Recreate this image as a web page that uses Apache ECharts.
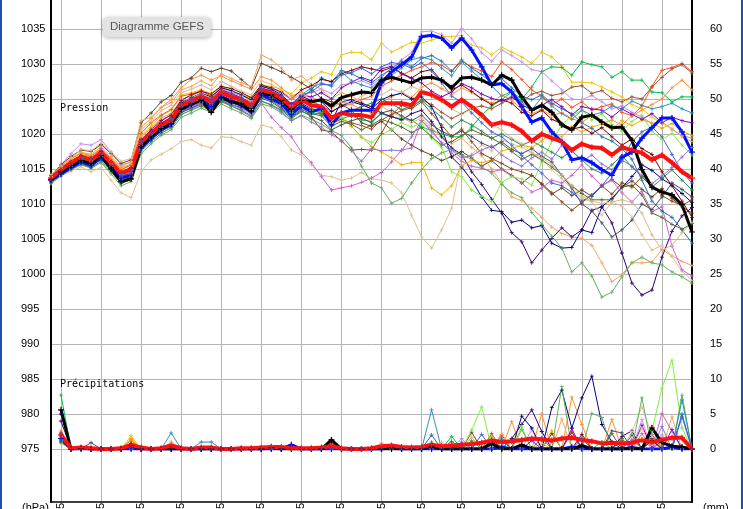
<!DOCTYPE html>
<html>
<head>
<meta charset="utf-8">
<script src="https://cdn.jsdelivr.net/npm/echarts@6/dist/echarts.min.js"></script>
<style>
  html, body { margin: 0; padding: 0; background: #fff; }
  #chart { width: 743px; height: 509px; }
  .edge { position: absolute; top: 0; width: 2px; height: 509px; background: #1f4fb4; }
</style>
</head>
<body>
<div id="chart"></div>
<div class="edge" style="left:0"></div>
<div class="edge" style="left:741px"></div>
<script>
// time steps, 6-hourly
const categories = [
  '12/05 18h',
  '13/05 00h','13/05 06h','13/05 12h','13/05 18h','14/05 00h','14/05 06h','14/05 12h','14/05 18h',
  '15/05 00h','15/05 06h','15/05 12h','15/05 18h','16/05 00h','16/05 06h','16/05 12h','16/05 18h',
  '17/05 00h','17/05 06h','17/05 12h','17/05 18h','18/05 00h','18/05 06h','18/05 12h','18/05 18h',
  '19/05 00h','19/05 06h','19/05 12h','19/05 18h','20/05 00h','20/05 06h','20/05 12h','20/05 18h',
  '21/05 00h','21/05 06h','21/05 12h','21/05 18h','22/05 00h','22/05 06h','22/05 12h','22/05 18h',
  '23/05 00h','23/05 06h','23/05 12h','23/05 18h','24/05 00h','24/05 06h','24/05 12h','24/05 18h',
  '25/05 00h','25/05 06h','25/05 12h','25/05 18h','26/05 00h','26/05 06h','26/05 12h','26/05 18h',
  '27/05 00h','27/05 06h','27/05 12h','27/05 18h','28/05 00h','28/05 06h','28/05 12h','28/05 18h'
];

const leftTicks = { min: 975, max: 1040, step: 5 };
const rightTicks = { min: 0, max: 65, step: 5 };

// ensemble mean (red), control (black), deterministic (blue)
const meanPressure = [
  1013.7,1014.9,1015.9,1016.7,1016.3,1017.3,1015.9,1014.4,1014.9,1018.9,
  1020.1,1021.3,1022.0,1024.1,1024.6,1025.3,1024.6,1025.9,1025.3,1024.9,
  1024.1,1026.3,1025.9,1025.1,1023.9,1024.9,1024.1,1023.9,1022.3,1023.0,
  1022.7,1022.7,1022.4,1024.4,1024.4,1024.4,1024.1,1026.0,1025.6,1024.9,
  1023.9,1024.9,1023.9,1022.7,1021.3,1021.7,1021.3,1020.4,1019.0,1020.0,
  1019.4,1018.9,1017.7,1018.6,1018.1,1018.0,1017.0,1018.1,1017.7,1017.3,
  1016.3,1017.0,1015.9,1014.6,1013.7
];
const controlPressure = [
  1013.5,1014.6,1015.5,1016.2,1015.8,1016.9,1015.0,1013.2,1013.6,1018.2,
  1019.6,1020.8,1021.5,1023.6,1024.3,1024.8,1023.1,1025.2,1024.6,1024.3,
  1023.3,1025.8,1025.6,1024.8,1023.5,1024.8,1024.6,1024.9,1024.0,1025.2,
  1025.6,1026.0,1025.9,1027.7,1028.1,1027.7,1027.3,1028.0,1028.1,1027.7,
  1026.6,1028.0,1028.1,1027.7,1027.0,1028.4,1027.7,1025.3,1023.4,1024.1,
  1023.1,1021.3,1020.6,1022.4,1022.7,1021.7,1020.9,1021.0,1019.1,1014.9,
  1012.4,1011.7,1011.3,1009.9,1006.0
];
const gfsPressure = [
  1013.4,1014.3,1015.2,1016.0,1015.5,1016.6,1015.2,1013.7,1014.1,1018.0,
  1019.4,1020.6,1021.4,1023.5,1024.2,1024.9,1023.9,1025.3,1024.7,1024.1,
  1023.2,1025.6,1025.0,1024.3,1022.8,1024.0,1023.2,1023.6,1021.3,1023.0,
  1023.4,1023.4,1023.4,1027.3,1028.9,1029.9,1031.0,1033.9,1034.1,1033.7,
  1032.3,1033.7,1032.0,1029.6,1027.0,1027.2,1026.0,1023.9,1021.7,1022.3,
  1020.3,1018.9,1016.3,1016.6,1015.9,1014.9,1014.1,1016.7,1017.4,1019.4,
  1020.9,1022.3,1022.3,1020.3,1017.4
];

const meanRain = [
  null,2.0,0.1,0.2,0.1,0,0,0.1,0.6,0.2,
  0,0.1,0.5,0.1,0,0.2,0.2,0,0,0.1,
  0.1,0.2,0.3,0.3,0.1,0.1,0.1,0.2,0.4,0.1,
  0,0,0.1,0.4,0.5,0.3,0.2,0.3,0.6,0.4,
  0.5,0.6,0.7,0.9,1.2,1.0,1.1,1.3,1.5,1.4,
  1.2,1.5,1.6,1.3,1.1,0.8,0.9,0.8,0.9,1.3,
  1.0,1.3,1.6,1.6,0
];
// [step, mm] where it rained, zero elsewhere
const controlRain = [[1,5.6],[3,0.1],[8,0.5],[22,0.2],[28,1.3],[38,0.4],[44,0.8],[47,0.6],[53,0.5],[60,3.0],[61,0.9],[62,0.4],[63,0.3]];
const gfsRain = [[1,1.5],[24,0.6],[34,0.2],[45,0.3],[52,0.3],[58,0.2],[62,0.3]];

const memberColors = [
  '#f0c800','#c890f0','#00c040','#ff5020','#a0522d','#ff9030','#604020','#f4a460',
  '#000080','#300070','#e0c090','#d060d0','#80f040','#60b060','#f0b000','#2070b0',
  '#405060','#556b2f','#8b4513','#800000','#8000c0','#9370db','#3090c0','#4060e0',
  '#2e8b57','#deb887'
];

const memberPressure = [
  [1013.9,1015.3,1016.5,1017.2,1016.9,1017.8,1016.3,1015.0,1015.4,1019.8,
   1021.2,1022.6,1023.4,1025.6,1025.9,1026.3,1025.8,1026.9,1026.1,1025.6,
   1025.2,1027.0,1026.8,1026.4,1025.7,1027.3,1028.0,1028.9,1028.5,1031.3,
   1031.7,1031.6,1030.6,1033.0,1031.7,1032.4,1033.1,1033.0,1033.4,1033.9,
   1033.9,1034.1,1032.7,1032.3,1031.3,1032.4,1031.7,1031.0,1030.1,1031.7,
   1031.0,1029.6,1027.4,1027.4,1027.3,1026.7,1026.0,1025.3,1024.2,1023.6,
   1022.4,1021.5,1020.8,1019.6,1018.9],
  [1013.8,1015.6,1017.2,1018.6,1018.4,1019.2,1017.4,1015.6,1016.0,1019.6,
   1020.8,1022.3,1022.9,1024.9,1025.5,1026.0,1025.4,1026.6,1025.9,1025.5,
   1024.8,1026.9,1026.5,1025.8,1024.9,1025.6,1025.9,1026.4,1025.8,1027.0,
   1027.2,1027.6,1027.0,1028.1,1029.4,1030.6,1031.6,1034.6,1034.7,1034.2,
   1033.0,1035.1,1033.6,1031.6,1030.4,1032.0,1031.2,1030.3,1029.2,1028.9,
   1027.6,1026.3,1025.0,1024.9,1025.5,1024.6,1023.6,1024.0,1023.1,1022.4,
   1021.5,1021.8,1020.6,1019.8,1019.4],
  [1013.2,1014.4,1015.2,1016.0,1015.6,1016.7,1015.2,1013.5,1014.1,1018.1,
   1019.5,1020.6,1021.4,1023.3,1023.9,1024.5,1023.9,1025.1,1024.6,1024.1,
   1023.4,1025.4,1025.1,1024.3,1023.1,1023.9,1023.1,1022.8,1021.6,1022.2,
   1022.6,1022.0,1021.8,1022.9,1022.4,1022.2,1022.0,1021.0,1020.5,1020.0,
   1019.6,1019.6,1021.0,1022.7,1024.0,1024.9,1026.0,1025.0,1026.7,1028.9,
   1029.6,1029.5,1028.4,1030.3,1029.9,1029.6,1028.1,1028.9,1027.7,1027.7,
   1026.0,1025.9,1024.6,1025.3,1025.3],
  [1013.9,1015.2,1016.2,1017.0,1016.8,1017.9,1016.4,1014.9,1015.6,1020.1,
   1021.6,1022.7,1023.5,1025.4,1025.7,1026.2,1025.4,1026.4,1025.7,1025.1,
   1024.5,1026.7,1026.0,1025.3,1024.1,1025.2,1024.6,1024.1,1023.2,1023.9,
   1024.3,1024.9,1025.4,1026.8,1027.6,1028.4,1029.1,1029.6,1030.2,1029.8,
   1028.9,1030.4,1029.6,1029.0,1028.2,1030.3,1029.2,1027.8,1026.3,1025.4,
   1024.2,1025.0,1023.8,1024.6,1023.4,1023.9,1024.3,1023.1,1022.6,1024.0,
   1026.8,1029.1,1029.5,1030.1,1028.9],
  [1013.6,1014.7,1015.7,1016.5,1016.0,1017.0,1015.6,1014.0,1014.5,1018.6,
   1019.9,1021.0,1021.8,1023.8,1024.3,1025.0,1024.1,1025.4,1024.9,1024.3,
   1023.6,1025.9,1025.4,1024.4,1023.2,1024.2,1023.4,1023.0,1021.5,1022.1,
   1021.6,1021.2,1020.7,1022.0,1022.8,1023.3,1023.8,1024.9,1024.2,1023.1,
   1022.2,1022.9,1023.7,1024.0,1023.6,1024.4,1025.2,1024.6,1025.7,1026.1,
   1025.5,1025.8,1026.7,1026.9,1025.8,1026.2,1025.1,1024.6,1025.3,1025.0,
   1026.7,1028.1,1029.3,1029.9,1028.7],
  [1014.0,1015.5,1016.4,1017.3,1016.9,1017.9,1016.6,1015.2,1015.7,1021.0,
   1022.2,1023.8,1024.9,1026.6,1027.8,1028.4,1027.7,1028.3,1027.6,1027.0,
   1026.4,1028.2,1027.7,1026.6,1025.4,1026.0,1025.2,1024.7,1023.7,1024.5,
   1024.2,1023.6,1023.0,1024.5,1025.3,1026.0,1025.2,1026.7,1027.3,1026.5,
   1025.6,1026.6,1025.9,1025.1,1024.4,1025.6,1024.8,1023.6,1022.9,1023.5,
   1022.6,1023.1,1022.2,1021.7,1022.6,1021.5,1022.0,1021.3,1022.6,1023.4,
   1024.2,1025.0,1026.6,1027.7,1026.3],
  [1014.1,1015.6,1016.8,1017.7,1017.5,1018.5,1017.2,1015.8,1016.3,1021.6,
   1023.0,1024.6,1025.5,1027.4,1028.0,1029.4,1028.9,1029.4,1029.0,1027.8,
   1026.6,1030.1,1029.5,1028.9,1028.1,1027.3,1026.4,1025.1,1024.6,1024.2,
   1023.4,1021.6,1021.1,1021.8,1020.6,1019.3,1018.4,1017.6,1017.0,1016.2,
   1016.8,1017.5,1016.6,1015.4,1016.2,1015.0,1014.1,1013.0,1014.1,1012.8,
   1011.4,1012.3,1011.2,1012.0,1011.1,1012.6,1013.5,1012.4,1013.3,1012.1,
   1011.0,1012.2,1010.8,1009.6,1008.7],
  [1014.2,1015.4,1016.6,1017.4,1017.1,1018.2,1016.8,1015.4,1016.0,1021.9,
   1022.4,1023.8,1024.5,1026.3,1026.8,1027.6,1026.9,1028.6,1027.9,1027.3,
   1026.8,1031.3,1030.6,1029.4,1027.7,1028.3,1027.1,1026.4,1025.0,1025.9,
   1025.4,1024.6,1023.5,1024.0,1023.1,1022.4,1021.6,1022.3,1020.8,1019.6,
   1018.6,1019.4,1018.1,1016.9,1015.0,1013.0,1011.0,1010.5,1009.4,1008.1,
   1006.7,1005.8,1005.3,1005.1,1004.1,1001.6,998.9,999.9,1001.6,1001.6,
   1001.7,1003.5,1002.6,1001.8,1001.2],
  [1013.5,1014.8,1015.8,1016.9,1016.6,1017.6,1016.0,1014.3,1014.7,1018.8,
   1020.3,1021.5,1022.4,1024.5,1025.2,1025.8,1025.3,1026.6,1026.2,1025.6,
   1024.9,1026.8,1026.4,1025.6,1024.3,1025.4,1024.8,1024.6,1023.2,1024.0,
   1024.6,1024.2,1023.6,1024.9,1025.5,1025.8,1025.0,1025.3,1023.9,1020.9,
   1016.7,1015.3,1013.4,1011.0,1009.1,1008.9,1007.4,1007.7,1006.6,1006.9,
   1004.4,1003.7,1003.8,1006.3,1005.9,1009.6,1010.8,1012.4,1013.9,1015.6,
   1014.8,1013.6,1012.7,1011.5,1010.2],
  [1013.6,1014.7,1015.6,1016.4,1016.0,1017.0,1015.4,1013.9,1014.4,1018.5,
   1019.8,1021.0,1021.8,1023.8,1024.4,1025.0,1024.5,1025.8,1025.4,1024.6,
   1023.7,1026.0,1025.7,1024.7,1023.5,1024.4,1023.6,1023.3,1021.8,1024.6,
   1024.9,1024.4,1023.9,1023.0,1022.5,1022.0,1022.9,1023.4,1021.8,1019.6,
   1018.0,1017.1,1014.6,1012.8,1010.7,1008.7,1005.9,1004.6,1001.6,1003.4,
   1005.1,1006.6,1005.3,1006.3,1009.1,1009.6,1007.3,1003.0,998.7,997.0,
   997.7,1002.4,1006.1,1008.3,1009.5],
  [1013.0,1014.0,1014.7,1015.3,1014.6,1015.2,1013.4,1011.6,1010.9,1014.6,
   1016.3,1017.1,1017.9,1018.9,1019.2,1018.4,1018.0,1019.6,1019.5,1018.9,
   1018.4,1021.3,1020.9,1019.6,1017.7,1017.0,1015.6,1014.1,1013.9,1013.4,
   1013.7,1014.5,1013.6,1013.4,1013.0,1011.6,1008.4,1005.3,1003.7,1006.3,
   1009.4,1016.3,1017.1,1018.4,1017.6,1019.2,1018.6,1018.1,1017.3,1016.4,
   1014.9,1013.6,1012.2,1010.8,1010.3,1008.4,1010.3,1009.7,1008.1,1005.6,
   1003.4,1004.1,1002.5,1000.4,999.1],
  [1013.3,1014.4,1015.5,1016.4,1016.1,1017.5,1015.7,1013.6,1014.0,1017.8,
   1019.2,1020.4,1021.2,1023.1,1023.6,1024.2,1023.4,1024.8,1024.0,1023.3,
   1022.4,1024.4,1022.4,1020.9,1019.6,1017.4,1015.9,1013.9,1012.0,1012.3,
   1012.6,1013.1,1013.7,1014.5,1016.0,1017.7,1018.0,1021.9,1020.3,1018.8,
   1017.3,1016.1,1015.4,1015.1,1014.6,1014.9,1014.0,1013.0,1011.7,1012.3,
   1013.4,1013.0,1014.1,1015.6,1014.0,1012.6,1013.4,1011.6,1010.3,1011.8,
   1008.9,1009.6,1004.0,1000.6,999.7],
  [1013.1,1014.3,1015.3,1016.2,1015.8,1016.8,1015.3,1013.8,1014.3,1018.3,
   1019.6,1020.9,1021.7,1023.6,1024.2,1024.9,1024.3,1025.4,1024.9,1024.3,
   1023.5,1025.6,1025.1,1024.2,1023.0,1024.0,1023.4,1023.3,1021.6,1022.6,
   1021.1,1019.5,1018.8,1019.9,1020.7,1021.6,1021.0,1021.6,1019.4,1018.1,
   1014.6,1013.9,1012.0,1011.1,1010.3,1013.1,1013.9,1013.6,1012.7,1016.0,
   1018.9,1021.3,1022.6,1023.4,1022.0,1022.9,1021.4,1020.4,1021.8,1022.7,
   1020.4,1019.2,1020.1,1018.4,1017.0],
  [1012.9,1014.0,1014.9,1015.6,1015.1,1015.9,1014.3,1012.6,1013.2,1017.2,
   1018.6,1019.8,1020.6,1022.4,1023.0,1023.7,1023.1,1024.3,1023.6,1023.0,
   1022.2,1024.3,1023.9,1023.0,1021.9,1022.7,1022.1,1021.4,1020.5,1019.8,
   1018.0,1015.4,1013.0,1012.3,1010.1,1010.8,1013.0,1014.9,1016.5,1017.3,
   1017.8,1017.0,1016.4,1015.3,1014.4,1012.8,1011.6,1010.9,1008.8,1007.1,
   1005.4,1003.7,1000.3,1001.6,999.7,996.7,997.4,999.6,1001.6,1002.4,
   1001.6,1001.3,1000.3,999.6,998.7],
  [1013.8,1015.0,1016.0,1017.0,1016.6,1017.7,1016.2,1014.7,1015.2,1019.6,
   1020.9,1022.0,1022.8,1024.7,1025.1,1025.8,1025.1,1026.2,1025.7,1025.2,
   1024.6,1026.6,1026.1,1025.3,1024.0,1024.9,1023.7,1023.1,1021.6,1022.3,
   1021.1,1019.6,1018.2,1017.4,1016.6,1015.6,1015.9,1015.9,1012.3,1011.3,
   1012.6,1015.5,1016.2,1015.9,1016.3,1017.6,1017.9,1018.4,1018.1,1019.0,
   1020.3,1019.6,1021.1,1020.3,1021.0,1021.4,1020.7,1021.9,1021.2,1022.0,
   1021.6,1020.8,1021.5,1020.4,1019.8],
  [1013.4,1014.6,1015.6,1016.5,1016.0,1017.1,1015.6,1014.0,1014.6,1018.6,
   1019.9,1021.1,1021.9,1023.9,1024.5,1025.1,1024.4,1025.7,1025.2,1024.7,
   1023.9,1026.1,1025.7,1024.9,1023.8,1025.2,1026.3,1028.0,1027.4,1029.1,
   1028.6,1027.9,1027.3,1028.4,1029.3,1030.4,1029.6,1030.8,1031.2,1030.4,
   1029.0,1030.6,1029.4,1028.5,1027.3,1027.9,1026.6,1025.4,1024.9,1025.6,
   1024.4,1023.6,1022.9,1021.6,1020.8,1019.6,1019.0,1017.9,1016.4,1013.4,
   1010.4,1009.0,1008.1,1006.3,1004.4],
  [1013.2,1014.3,1015.1,1015.9,1015.5,1016.4,1014.9,1013.1,1013.8,1017.9,
   1019.2,1020.4,1021.1,1023.1,1023.7,1024.3,1023.5,1024.8,1024.2,1023.8,
   1023.0,1025.1,1024.6,1023.6,1022.4,1023.3,1022.5,1021.9,1020.6,1021.3,
   1021.9,1022.3,1021.6,1023.0,1023.4,1022.6,1021.9,1022.7,1021.3,1020.4,
   1019.7,1020.4,1019.6,1018.7,1018.1,1018.9,1017.8,1017.2,1017.9,1016.8,
   1016.0,1014.1,1012.3,1010.0,1009.0,1007.3,1005.3,1006.3,1007.7,1010.0,
   1009.2,1011.0,1013.0,1012.1,1011.0],
  [1013.5,1014.6,1015.4,1016.1,1015.7,1016.6,1015.1,1013.4,1013.9,1018.0,
   1019.3,1020.5,1021.3,1023.3,1023.8,1024.6,1023.8,1025.0,1024.4,1024.1,
   1023.3,1025.3,1024.8,1023.8,1022.5,1023.5,1022.9,1022.6,1021.1,1021.8,
   1021.4,1020.6,1021.3,1022.1,1021.6,1021.0,1020.2,1020.9,1019.6,1018.4,
   1018.9,1019.8,1020.6,1020.0,1019.4,1018.6,1017.5,1016.4,1017.1,1016.3,
   1015.3,1014.1,1012.6,1011.5,1010.6,1010.6,1010.6,1012.4,1012.7,1011.3,
   1008.7,1008.1,1007.1,1006.4,1007.2],
  [1013.4,1014.5,1015.6,1016.3,1015.9,1016.9,1015.3,1013.7,1014.2,1018.4,
   1019.7,1020.7,1021.6,1023.7,1024.2,1024.8,1024.2,1025.5,1024.9,1024.5,
   1023.8,1025.7,1025.2,1024.5,1023.4,1024.1,1022.4,1020.6,1020.3,1019.0,
   1017.7,1017.8,1017.7,1020.1,1022.7,1024.1,1023.6,1024.6,1022.9,1021.3,
   1019.6,1020.7,1018.9,1017.2,1016.5,1015.8,1015.0,1014.6,1014.1,1012.9,
   1011.6,1010.3,1009.1,1010.2,1011.3,1012.6,1011.4,1013.0,1012.4,1013.9,
   1012.6,1011.2,1010.4,1009.8,1010.6],
  [1013.7,1014.9,1016.0,1016.9,1016.5,1017.5,1016.0,1014.6,1015.2,1019.2,
   1020.6,1021.9,1022.7,1024.8,1025.6,1026.1,1025.7,1026.8,1026.5,1025.9,
   1025.2,1027.0,1026.6,1026.0,1025.0,1026.3,1026.9,1027.8,1027.5,1028.6,
   1029.1,1029.6,1029.3,1029.0,1029.5,1028.7,1028.0,1028.9,1029.2,1027.6,
   1026.3,1027.0,1026.1,1025.0,1024.2,1024.9,1024.4,1023.1,1022.6,1023.4,
   1022.1,1021.5,1020.7,1021.0,1020.1,1020.9,1019.6,1018.4,1019.3,1017.9,
   1017.1,1014.6,1012.6,1010.4,1008.1],
  [1013.6,1014.8,1015.8,1016.8,1016.4,1017.6,1016.1,1014.5,1015.1,1019.1,
   1020.4,1021.6,1022.3,1024.4,1025.0,1025.6,1025.0,1026.3,1025.8,1025.2,
   1024.4,1026.5,1026.2,1025.4,1024.3,1025.5,1025.3,1025.9,1025.0,1026.6,
   1027.4,1028.1,1027.6,1029.3,1029.7,1028.6,1027.9,1027.3,1026.1,1025.3,
   1026.0,1027.2,1026.6,1025.7,1025.1,1024.7,1025.3,1024.2,1023.4,1024.1,
   1024.9,1023.9,1022.7,1023.9,1023.6,1023.4,1022.4,1023.6,1022.8,1022.1,
   1022.9,1021.6,1022.4,1021.9,1021.6],
  [1013.3,1014.6,1015.7,1016.6,1016.2,1017.9,1015.8,1014.2,1014.5,1018.4,
   1019.6,1020.9,1021.6,1023.4,1023.9,1024.4,1023.6,1024.9,1024.2,1023.6,
   1022.9,1024.7,1024.1,1023.2,1021.9,1022.6,1021.7,1021.0,1019.9,1019.1,
   1017.6,1016.1,1017.9,1017.6,1017.7,1017.6,1019.6,1021.9,1020.6,1018.6,
   1017.7,1016.6,1016.9,1017.7,1018.3,1017.0,1016.1,1015.4,1016.6,1017.4,
   1016.4,1018.4,1017.6,1016.1,1017.0,1015.7,1014.9,1016.3,1015.4,1014.1,
   1012.9,1014.0,1015.2,1016.7,1018.1],
  [1013.5,1014.7,1015.7,1016.6,1016.2,1017.2,1015.8,1014.2,1014.8,1018.7,
   1020.0,1021.2,1022.1,1024.0,1024.6,1025.2,1024.6,1025.8,1025.3,1024.8,
   1024.1,1026.2,1025.9,1025.0,1023.9,1025.6,1026.6,1027.3,1026.8,1028.9,
   1027.6,1027.0,1026.6,1027.9,1028.4,1029.4,1030.6,1031.0,1030.6,1029.4,
   1028.3,1030.3,1029.0,1027.8,1026.9,1025.4,1026.1,1024.6,1023.4,1025.3,
   1024.0,1022.9,1022.1,1023.4,1022.7,1023.1,1024.0,1023.6,1024.7,1024.1,
   1023.6,1023.9,1024.4,1023.6,1023.0],
  [1013.6,1014.8,1015.9,1016.8,1016.4,1017.3,1015.9,1014.4,1014.9,1019.0,
   1020.2,1021.4,1022.2,1024.3,1024.8,1025.5,1024.8,1026.1,1025.6,1025.1,
   1024.3,1026.5,1026.1,1025.4,1024.2,1025.6,1026.0,1027.1,1027.0,1028.4,
   1028.8,1029.4,1028.6,1029.6,1030.2,1030.0,1029.4,1030.2,1029.0,1027.3,
   1025.4,1024.6,1023.0,1021.6,1020.3,1019.6,1018.4,1016.9,1015.6,1014.4,
   1013.0,1012.6,1011.7,1010.4,1011.3,1012.6,1014.4,1016.1,1018.9,1020.3,
   1021.0,1019.6,1017.1,1014.6,1013.0],
  [1013.1,1014.2,1015.0,1015.7,1015.2,1016.1,1014.6,1012.9,1013.5,1017.6,
   1018.9,1020.1,1020.9,1022.8,1023.4,1024.0,1023.3,1024.6,1024.0,1023.4,
   1022.6,1024.7,1024.2,1023.4,1022.2,1023.2,1022.8,1023.0,1022.1,1022.9,
   1023.3,1023.9,1024.4,1025.0,1024.3,1023.5,1024.0,1024.8,1023.6,1022.4,
   1021.0,1022.0,1021.3,1020.4,1019.4,1020.0,1019.2,1018.4,1019.0,1018.2,
   1017.4,1016.6,1017.6,1016.3,1015.0,1014.4,1015.6,1016.9,1015.3,1013.9,
   1012.4,1013.6,1014.9,1013.4,1012.0],
  [1013.9,1015.4,1016.6,1017.8,1017.6,1018.7,1017.4,1016.1,1016.5,1020.6,
   1021.8,1023.3,1024.1,1025.9,1026.4,1027.0,1026.3,1027.5,1026.8,1026.1,
   1025.6,1027.6,1027.1,1026.2,1025.0,1025.8,1025.0,1024.9,1023.8,1024.6,
   1024.3,1025.4,1026.1,1025.6,1026.4,1025.9,1026.8,1026.2,1025.3,1024.6,
   1023.6,1022.8,1023.6,1022.4,1021.4,1020.6,1019.4,1018.6,1017.4,1016.6,
   1015.6,1014.1,1012.6,1011.1,1010.4,1010.1,1010.3,1010.6,1010.2,1008.7,
   1005.6,1003.4,1004.1,1005.9,1007.4]
];

// rain per member: [step, mm]; steps not listed had no rain
const memberRain = [
  [[1,1.5],[8,1.9],[22,0.3],[49,0.8],[59,1.5]],
  [[1,1.0],[41,1.5],[48,2.8],[59,4.2],[61,2.0]],
  [[1,7.7],[12,0.5],[40,1.8],[42,1.2],[55,1.0]],
  [[1,2.4],[8,1.3],[45,2.0],[52,2.5]],
  [[1,2.0],[28,0.8],[44,2.2],[57,1.5]],
  [[1,2.6],[8,1.2],[46,3.9],[49,5.0],[52,7.4],[53,3.5],[56,4.2]],
  [[1,1.2],[8,0.8],[42,2.4],[50,2.2],[61,1.2]],
  [[1,1.8],[12,1.0],[42,1.7],[51,4.3],[60,3.2],[62,4.6]],
  [[1,5.0],[47,4.7],[48,3.0],[50,5.9],[51,8.4],[52,3.0],[53,7.3],[54,10.4],[55,3.5],[56,1.0]],
  [[1,4.0],[46,1.5],[47,3.5],[48,5.6],[49,2.5],[57,1.8],[58,2.6],[60,2.1]],
  [[1,0.8],[12,1.0],[39,1.0],[58,2.5],[59,6.0],[60,2.0]],
  [[1,1.3],[41,1.0],[59,2.2],[61,5.1],[62,2.5]],
  [[1,0.9],[42,2.7],[43,6.0],[47,3.2],[60,2.6],[61,8.7],[62,12.7],[63,3.0]],
  [[1,1.2],[38,1.0],[47,2.8],[51,8.9],[54,5.1],[55,4.5],[59,7.3],[63,7.7]],
  [[1,1.6],[8,1.5],[44,1.8],[50,2.6]],
  [[1,2.2],[38,2.0],[45,1.6],[63,5.0]],
  [[1,1.4],[4,0.9],[24,0.6],[44,1.4],[56,2.6],[57,2.3]],
  [[1,1.0],[45,1.2],[56,2.2],[58,2.0]],
  [[1,1.7],[8,0.8],[40,1.1],[52,2.4],[60,1.5]],
  [[1,2.1],[28,1.0],[53,2.1],[60,1.2]],
  [[1,1.5],[48,1.2],[52,2.9],[59,3.4],[62,2.8]],
  [[1,1.1],[44,1.0],[58,1.4],[61,3.2]],
  [[1,2.3],[12,2.3],[15,1.0],[16,1.0],[38,5.6],[63,7.0]],
  [[1,1.9],[22,0.5],[43,2.1],[53,1.5],[63,4.6]],
  [[1,1.0],[38,0.8],[49,1.6],[57,1.2]],
  [[1,1.5],[33,0.9],[45,2.3],[59,3.0]]
];

const CROSS = 'path://M2,0H3V2H5V3H3V5H2V3H0V2H2Z';

function rainSeries(spikes) {
  const out = categories.map((c, i) => (i === 0 ? null : 0));
  spikes.forEach(([i, v]) => { out[i] = v; });
  return out;
}

function line(data, color, width, size, yAxisIndex) {
  return {
    type: 'line',
    xAxisIndex: 1,
    yAxisIndex,
    data,
    symbol: CROSS,
    symbolSize: size,
    showAllSymbol: true,
    lineStyle: { color, width },
    itemStyle: { color },
    emphasis: { disabled: true }
  };
}

const series = [];
memberPressure.forEach((p, k) => {
  series.push(line(p, memberColors[k], 1, 4, 2));
  series.push(line(rainSeries(memberRain[k]), memberColors[k], 1, 4, 3));
});
series.push(line(gfsPressure, '#0010ff', 3, 6, 2));
series.push(line(rainSeries(gfsRain), '#0010ff', 3, 6, 3));
series.push(line(controlPressure, '#000000', 3, 6, 2));
series.push(line(rainSeries(controlRain), '#000000', 3, 6, 3));
series.push(line(meanPressure, '#ff1010', 4, 6, 2));
series.push(line(meanRain, '#ff1010', 4, 6, 3));

const sans = 'Liberation Sans';
const mono = 'DejaVu Sans Mono';
const gridColor = '#b4b4b4';

const chart = echarts.init(document.getElementById('chart'));
chart.setOption({
  animation: false,
  backgroundColor: '#fff',
  title: [
    {
      text: 'Diagramme GEFS', left: 103, top: 17, padding: [4, 7],
      backgroundColor: '#e3e3e3', borderRadius: 5,
      shadowBlur: 4, shadowColor: 'rgba(0,0,0,0.3)', shadowOffsetY: 1,
      textStyle: { fontFamily: sans, fontSize: 11.5, fontWeight: 'normal', color: '#555' }
    },
    { text: 'Pression', left: 60, top: 103, padding: 0,
      textStyle: { fontFamily: mono, fontSize: 10, fontWeight: 'normal', color: '#000' } },
    { text: 'Précipitations', left: 60, top: 379, padding: 0,
      textStyle: { fontFamily: mono, fontSize: 10, fontWeight: 'normal', color: '#000' } },
    { text: '(hPa)', left: 22, top: 502, padding: 0,
      textStyle: { fontFamily: sans, fontSize: 11, fontWeight: 'normal', color: '#000' } },
    { text: '(mm)', left: 703, top: 502, padding: 0,
      textStyle: { fontFamily: sans, fontSize: 11, fontWeight: 'normal', color: '#000' } }
  ],
  grid: [
    // frame with the day lines
    { left: 51, right: 51, top: 0, bottom: 7, containLabel: false, outerBoundsMode: 'none' },
    // pressure / rain plotting area, 7 px per unit
    { left: 51, right: 51, top: -6, height: 455, containLabel: false, outerBoundsMode: 'none' }
  ],
  xAxis: [
    {
      type: 'category', gridIndex: 0, data: categories, boundaryGap: false,
      axisLine: { lineStyle: { color: '#000', width: 1.5 } },
      axisTick: { show: false },
      splitLine: { show: true, interval: (i) => i % 4 === 1, lineStyle: { color: gridColor, width: 1 } },
      axisLabel: {
        interval: (i) => i % 4 === 1, rotate: 90, margin: 1,
        fontFamily: sans, fontSize: 11, color: '#000',
        formatter: (v) => v.slice(0, 5)
      }
    },
    { type: 'category', gridIndex: 1, data: categories, boundaryGap: false, show: false }
  ],
  yAxis: [
    { type: 'value', gridIndex: 0, min: 0, max: 1, position: 'left',
      axisLine: { show: true, lineStyle: { color: '#000', width: 2 } },
      axisTick: { show: false }, axisLabel: { show: false }, splitLine: { show: false } },
    { type: 'value', gridIndex: 0, min: 0, max: 1, position: 'right',
      axisLine: { show: true, lineStyle: { color: '#000', width: 2 } },
      axisTick: { show: false }, axisLabel: { show: false }, splitLine: { show: false } },
    { type: 'value', gridIndex: 1, position: 'left',
      min: leftTicks.min, max: leftTicks.max, interval: leftTicks.step,
      axisLine: { show: false }, axisTick: { show: false },
      splitLine: { show: true, lineStyle: { color: gridColor, width: 1 } },
      axisLabel: { margin: 30, align: 'left', fontFamily: sans, fontSize: 11, color: '#000',
        formatter: (v) => (v >= leftTicks.max ? '' : v) } },
    { type: 'value', gridIndex: 1, position: 'right',
      min: rightTicks.min, max: rightTicks.max, interval: rightTicks.step,
      axisLine: { show: false }, axisTick: { show: false }, splitLine: { show: false },
      axisLabel: { margin: 18, fontFamily: sans, fontSize: 11, color: '#000',
        formatter: (v) => (v >= rightTicks.max ? '' : v) } }
  ],
  series
});
</script>
</body>
</html>
